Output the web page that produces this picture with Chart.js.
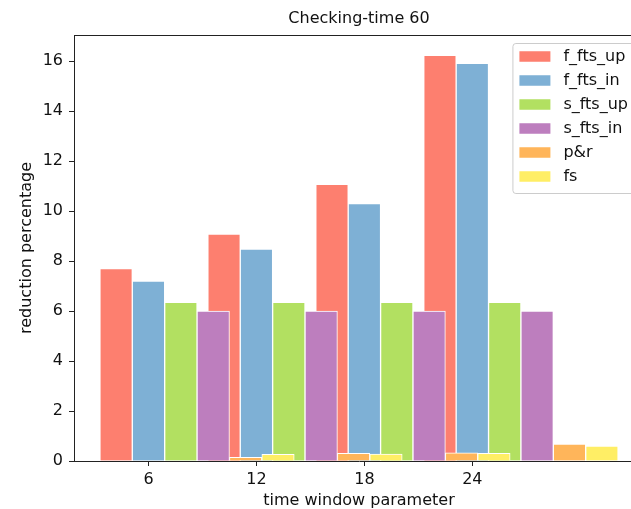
<!DOCTYPE html>
<html><head><meta charset="utf-8">
<script src="https://cdn.jsdelivr.net/npm/chart.js@4/dist/chart.umd.min.js"></script>
<style>
html,body{margin:0;padding:0;overflow:hidden;background:#fff;}
#wrap{width:631px;height:509px;overflow:hidden;position:relative;background:#fff;}
#c{position:absolute;left:0;top:0;}
</style></head><body>
<div id="wrap"><canvas id="c" width="660" height="509"></canvas></div>
<script>
// ---- data ----
const categories = [6, 12, 18, 24];
const seriesNames = ['f_fts_up', 'f_fts_in', 's_fts_up', 's_fts_in', 'p&r', 'fs'];
const f_fts_up = [7.7, 9.08, 11.07, 16.24];
const f_fts_in = [7.2, 8.48, 10.3, 15.92];
const s_fts_up = [6.35, 6.35, 6.35, 6.35];
const s_fts_in = [6.0, 6.0, 6.0, 6.0];
const p_r = [0.15, 0.31, 0.33, 0.68];
const fs = [0.27, 0.28, 0.31, 0.6];
const yTicks = [0, 2, 4, 6, 8, 10, 12, 14, 16];
const titleText = 'Checking-time 60';
const xTitle = 'time window parameter';
const yTitle = 'reduction percentage';

// ---- styles ----
const series = [f_fts_up, f_fts_in, s_fts_up, s_fts_in, p_r, fs];
const colors = ['#fd7f6f', '#7eb0d5', '#b2e061', '#bd7ebe', '#ffb55a', '#ffee65'];
const FAMILY = '"DejaVu Sans", sans-serif';
const FS = 16;
const TXT = '#111';
const AX = '#222';

const step = categories[1] - categories[0];
const barW = 0.3 * step;
const offs = series.map((_, i) => (i - 1) * barW);
const allX = [];
categories.forEach(c => offs.forEach(o => allX.push(c + o)));
const lo = Math.min(...allX) - barW / 2, hi = Math.max(...allX) + barW / 2;
const xMargin = 0.05 * (hi - lo);
const yMax = 1.05 * Math.max(...series.flat());

const datasets = series.map((vals, i) => ({
  label: seriesNames[i],
  data: categories.map((c, j) => ({x: c + offs[i], y: vals[j]})),
  backgroundColor: colors[i],
  borderColor: '#ffffff',
  borderWidth: 1,
  grouped: false,
  order: series.length - i
}));

const framePlugin = {
  id: 'frame',
  afterDatasetsDraw(chart) {
    const {ctx, chartArea: a} = chart;
    ctx.save();
    ctx.strokeStyle = AX; ctx.lineWidth = 1;
    ctx.beginPath();
    ctx.moveTo(a.left, a.top + 0.5); ctx.lineTo(a.right, a.top + 0.5);
    ctx.moveTo(a.right - 0.5, a.top); ctx.lineTo(a.right - 0.5, a.bottom);
    ctx.stroke();
    ctx.restore();
  }
};

const legendPlugin = {
  id: 'boxLegend',
  afterDraw(chart) {
    const {ctx, chartArea: a} = chart;
    ctx.save();
    ctx.font = FS + 'px ' + FAMILY;
    const maxW = Math.max(...seriesNames.map(n => ctx.measureText(n).width));
    const padL = 7, padR = 8, sw = 31, sh = 10.5, gap = 13, rowH = 24;
    const right = a.right - 8, top = a.top + 8;
    const w = padL + sw + gap + maxW + padR;
    const left = right - w;
    const h = 13.5 + rowH * (seriesNames.length - 1) + 16.5;
    ctx.fillStyle = 'rgba(255,255,255,0.8)';
    ctx.strokeStyle = '#cccccc';
    ctx.lineWidth = 1;
    ctx.beginPath();
    ctx.roundRect(left + 0.5, top + 0.5, w, h, 3);
    ctx.fill(); ctx.stroke();
    seriesNames.forEach((n, i) => {
      const cy = top + 13.5 + i * rowH;
      ctx.fillStyle = colors[i];
      ctx.fillRect(left + padL, cy - sh / 2, sw, sh);
      ctx.fillStyle = TXT;
      ctx.textBaseline = 'middle';
      ctx.textAlign = 'left';
      ctx.fillText(n, left + padL + sw + gap, cy);
    });
    ctx.restore();
  }
};

const font = {family: FAMILY, size: FS, weight: 'normal'};

const chart = new Chart(document.getElementById('c'), {
  type: 'bar',
  data: {datasets},
  options: {
    responsive: false,
    animation: false,
    devicePixelRatio: 1,
    layout: {padding: {left: 0, right: 16, top: 0, bottom: 0}},
    plugins: {
      legend: {display: false},
      tooltip: {enabled: false},
      title: {display: true, text: titleText, fullSize: false, color: TXT, font, padding: {top: 9, bottom: 6.8}}
    },
    scales: {
      x: {
        type: 'linear', offset: false, z: 1,
        min: lo - xMargin, max: hi + xMargin,
        afterBuildTicks: s => { s.ticks = categories.map(v => ({value: v})); },
        afterFit: s => { s.height = 48; },
        grid: {offset: false, drawOnChartArea: false, drawTicks: true, tickLength: 5, color: AX},
        border: {display: true, color: AX, width: 1},
        ticks: {color: TXT, font, padding: 4, maxRotation: 0, autoSkip: false},
        title: {display: true, text: xTitle, color: TXT, font, padding: {top: 0, bottom: -1.2}}
      },
      y: {
        min: 0, max: yMax, z: 1,
        afterBuildTicks: s => { s.ticks = yTicks.map(v => ({value: v})); },
        afterFit: s => { s.width = 74; },
        grid: {drawOnChartArea: false, drawTicks: true, tickLength: 5, color: AX},
        border: {display: true, color: AX, width: 1},
        ticks: {color: TXT, font, padding: 6},
        title: {display: true, text: yTitle, color: TXT, font, padding: {top: 17, bottom: 0}}
      }
    }
  },
  plugins: [framePlugin, legendPlugin]
});

const xs = chart.scales.x;
const px = xs.getPixelForValue(barW) - xs.getPixelForValue(0);
chart.data.datasets.forEach(d => { d.barThickness = px; });
chart.update('none');
</script>
</body></html>
